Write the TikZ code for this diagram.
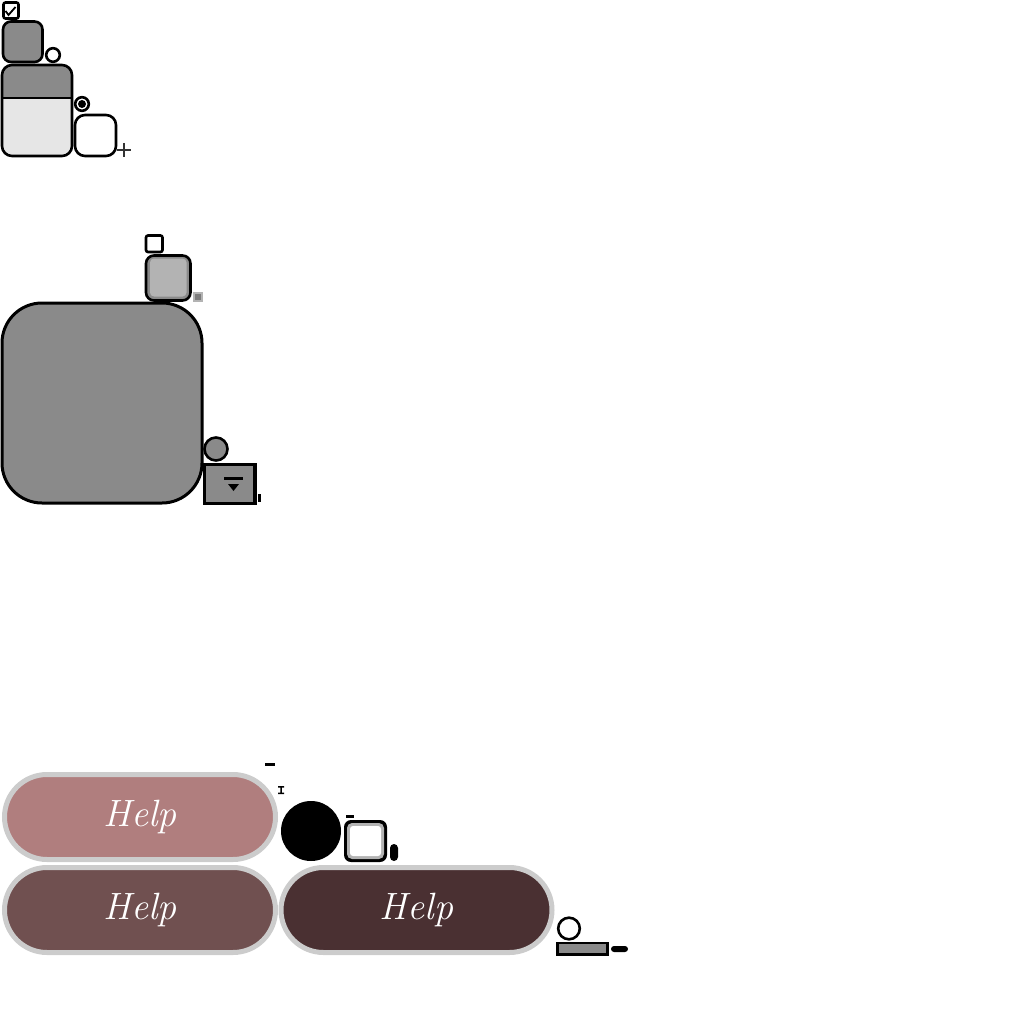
\documentclass[tikz,border=0pt]{standalone}
\definecolor{widgetgray}{HTML}{8A8A8A}
\definecolor{lightfill}{HTML}{E6E6E6}
\definecolor{midgray}{HTML}{B3B3B3}
\definecolor{ringgray}{HTML}{CCCCCC}
\definecolor{roseA}{HTML}{B07E7E}
\definecolor{roseB}{HTML}{705050}
\definecolor{roseC}{HTML}{4A3032}
\begin{document}
\begin{tikzpicture}[x=1pt,y=-1pt,
    outline/.style={draw=black, line width=2.6pt},
    pill/.style={rectangle, rounded corners=42.5pt, draw=ringgray, line width=5pt,
      minimum width=271pt, minimum height=85pt, inner sep=0pt, text=white,
      font=\fontsize{38}{40}\selectfont\itshape}]
    \useasboundingbox (0,0) rectangle (1024,1024);

    % top column of controls
    \draw[outline, fill=white, rounded corners=2pt] (3.5,2.5) rectangle (18.5,18.5);
    \draw[line width=1.8pt] (5.5,11) -- (8.5,15) -- (15.5,7);
    \draw[outline, fill=widgetgray, rounded corners=8pt] (3,21.5) rectangle (42.5,62);
    \draw[outline, fill=white] (53,55) circle (6.8pt);
    \begin{scope}
        \clip[rounded corners=10pt] (2,65) rectangle (72,156);
        \fill[lightfill] (2,65) rectangle (72,156);
        \fill[widgetgray] (2,65) rectangle (72,98);
    \end{scope}
    \draw[line width=2pt] (2,98) -- (72,98);
    \draw[outline, rounded corners=10pt] (2,65) rectangle (72,156);
    \draw[outline, fill=white] (82,104) circle (6.8pt);
    \fill (82,104) circle (4pt);
    \draw[outline, fill=white, rounded corners=10pt] (75,115) rectangle (116,156);
    \draw[black!80, line width=1.3pt] (117,150) -- (131,150) (124,143) -- (124,157);

    % middle group
    \draw[outline, fill=white, rounded corners=2pt] (146,235.5) rectangle (162.5,252);
    \draw[outline, fill=widgetgray, rounded corners=8pt] (146,255.5) rectangle (190.5,300.5);
    \fill[midgray, rounded corners=4pt] (150,258.5) rectangle (186.5,296.5);
    \fill[midgray] (192.5,291.5) rectangle (202.5,301.5);
    \fill[widgetgray!90!black] (195,294) rectangle (200.5,299.5);
    \draw[outline, line width=3pt, fill=widgetgray, rounded corners=40pt] (2,303) rectangle (202,503);
    \draw[outline, fill=widgetgray] (216,449) circle (11.5pt);
    \draw[outline, line width=3.2pt, fill=widgetgray] (204.5,464.5) rectangle (255,503.5);
    \fill (224,477) rectangle (243,480);
    \fill (228,484) -- (239,484) -- (233.5,491) -- cycle;
    \fill (258,494) rectangle (261,502);

    % bottom group
    \fill (265,763) rectangle (275,765.5);
    \fill (278,786) rectangle (284,787.5) (280.3,786) rectangle (281.8,794) (278,792.5) rectangle (284,794);
    \fill (311,831) circle (30pt);
    \fill (346,815) rectangle (354,817.5);
    \fill[rounded corners=7pt] (344,820) rectangle (387,862);
    \fill[midgray, rounded corners=5pt] (347,823) rectangle (384,859);
    \fill[white, rounded corners=3pt] (350,826) rectangle (381,856);
    \fill[rounded corners=4pt] (390,844) rectangle (398,861);

    \node (helpA) [pill, fill=roseA] at (140,817) {Help};
    \node (helpB) [pill, fill=roseB] at (140,910) {Help};
    \node (helpC) [pill, fill=roseC] at (416.5,910) {Help};

    \draw[outline, fill=white] (569,928.5) circle (10.8pt);
    \draw[outline, fill=widgetgray] (557.5,943) rectangle (607.5,954.5);
    \fill[rounded corners=3pt] (611,946) rectangle (628,952);
\end{tikzpicture}
\end{document}
